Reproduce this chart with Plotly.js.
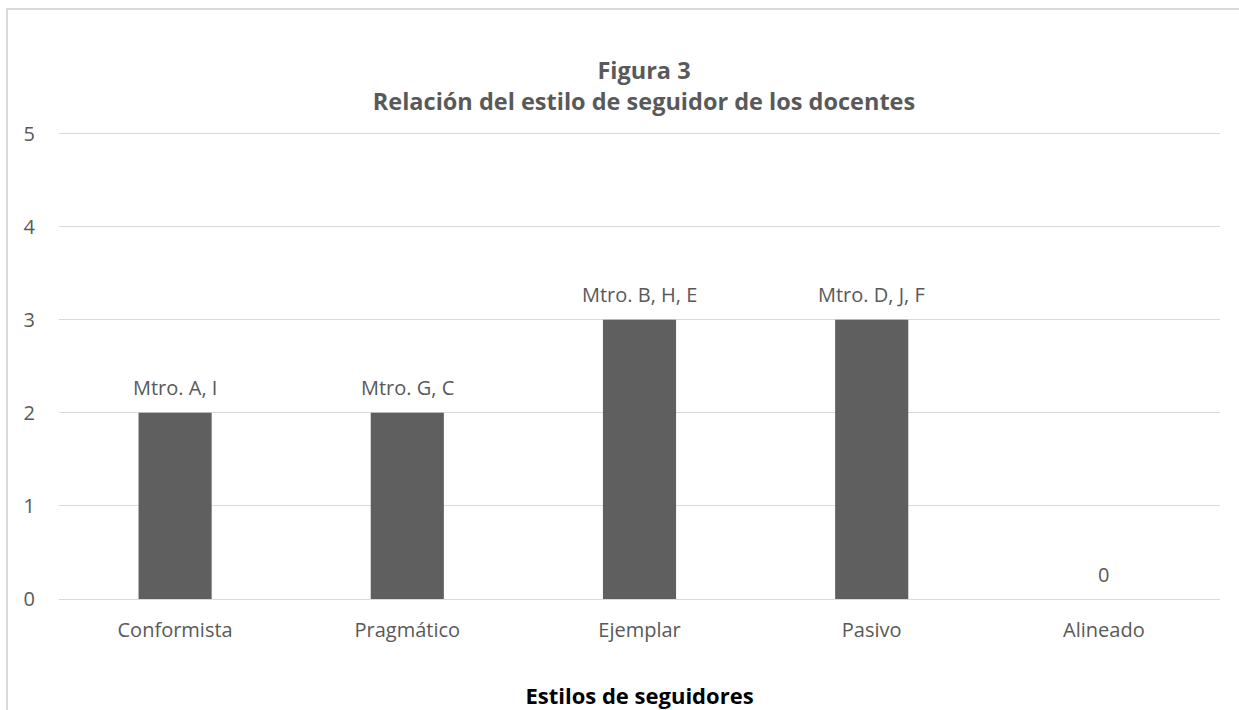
<!DOCTYPE html>
<html>
<head>
<meta charset="utf-8">
<script src="https://cdn.plot.ly/plotly-3.0.1.min.js"></script>
<style>
  html, body { margin: 0; padding: 0; background: #fff; }
  #chart { width: 1239px; height: 710px; }
</style>
</head>
<body>
<div id="chart"></div>
<script>
const categories = ["Conformista", "Pragmático", "Ejemplar", "Pasivo", "Alineado"];
const values = [2, 2, 3, 3, 0];
const barLabels = ["Mtro. A, I", "Mtro. G, C", "Mtro. B, H, E", "Mtro. D, J, F", "0"];
const yTicks = [0, 1, 2, 3, 4, 5];

const FONT = "'Open Sans', 'Noto Sans', sans-serif";
const GRAY = "#595959";

// plot area: x 59..1220, y ~129..599 (range extended slightly above 5 so the top gridline shows)
const L = 59, R = 19, T = 129, B = 111;
const PW = 1239 - L - R, PH = 710 - T - B;
const px2x = p => (p - L) / PW;
const px2y = p => (710 - B - p) / PH;

const trace = {
  type: "bar",
  x: categories,
  y: values,
  marker: { color: "#5f5f5f" },
  width: 0.315,
  hoverinfo: "x+y"
};

const labelAnnotations = categories.map((c, i) => ({
  x: c,
  y: values[i],
  xref: "x",
  yref: "y",
  text: barLabels[i],
  showarrow: false,
  xanchor: "center",
  yanchor: "middle",
  yshift: 25,
  font: { family: FONT, size: 20, color: GRAY }
}));

const layout = {
  width: 1239,
  height: 710,
  margin: { l: L, r: R, t: T, b: B },
  paper_bgcolor: "#ffffff",
  plot_bgcolor: "#ffffff",
  font: { family: FONT, color: GRAY },
  showlegend: false,
  title: {
    text: "<b>Figura 3</b><br><b>Relación del estilo de seguidor de los docentes</b>",
    font: { family: FONT, size: 23.5, color: GRAY },
    xref: "paper",
    x: px2x(644),
    xanchor: "center",
    yref: "container",
    y: 1 - 79 / 710,
    yanchor: "middle"
  },
  xaxis: {
    type: "category",
    showgrid: false,
    zeroline: false,
    showline: false,
    ticks: "",
    tickfont: { family: FONT, size: 20, color: GRAY },
    ticklabelstandoff: 17,
    title: {
      text: "<b>Estilos de seguidores</b>",
      font: { family: FONT, size: 22, color: "#000000" },
      standoff: 47
    }
  },
  yaxis: {
    range: [0, 5.05],
    tickvals: yTicks,
    ticktext: yTicks.map(String),
    showgrid: true,
    gridcolor: "#d9d9d9",
    gridwidth: 1,
    zeroline: true,
    zerolinecolor: "#d9d9d9",
    zerolinewidth: 1,
    showline: false,
    ticks: "",
    tickfont: { family: FONT, size: 20, color: GRAY },
    ticklabelstandoff: 23,
    fixedrange: true
  },
  annotations: labelAnnotations,
  shapes: [
    {
      type: "line", xref: "paper", yref: "paper",
      x0: px2x(7), x1: px2x(7), y0: px2y(712), y1: px2y(9),
      line: { color: "#d9d9d9", width: 2 }
    },
    {
      type: "line", xref: "paper", yref: "paper",
      x0: px2x(6), x1: px2x(1241), y0: px2y(9), y1: px2y(9),
      line: { color: "#d9d9d9", width: 2 }
    }
  ]
};

Plotly.newPlot("chart", [trace], layout, { displayModeBar: false, staticPlot: true });
</script>
</body>
</html>
